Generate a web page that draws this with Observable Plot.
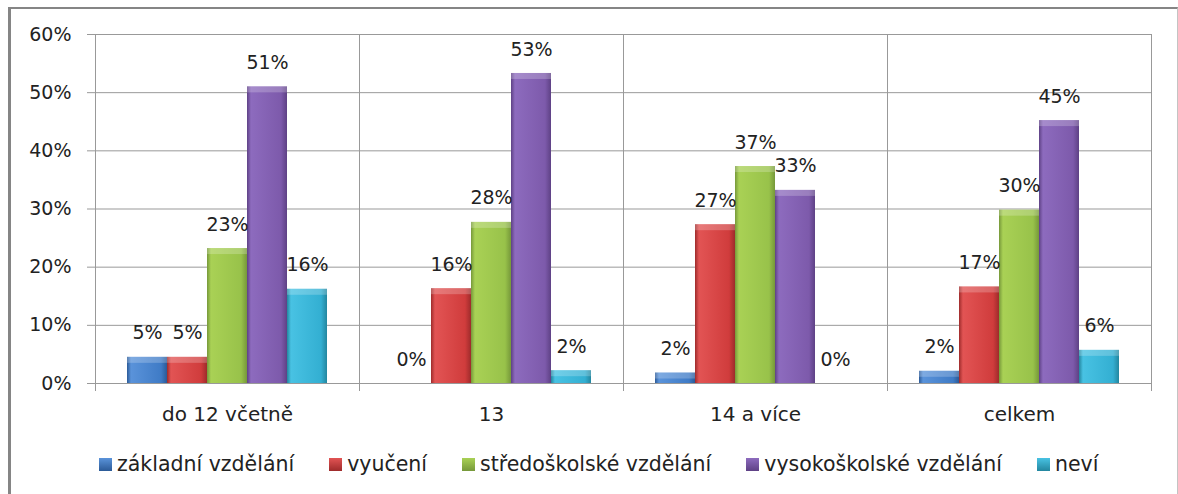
<!DOCTYPE html>
<html><head><meta charset="utf-8">
<script src="https://cdn.jsdelivr.net/npm/d3@7"></script>
<script src="https://cdn.jsdelivr.net/npm/@observablehq/plot@0.6"></script>
<style>
body{margin:0;background:#fff;font-family:"DejaVu Sans",sans-serif;}
#wrap{position:relative;width:1178px;height:494px;overflow:hidden;background:#fff}
#frame{position:absolute;left:8px;top:7px;width:1166px;height:520px;border-left:3px solid #858585;border-top:2px solid #858585;border-right:1px solid #c4c4c4}
#chart{position:absolute;left:0;top:0}
#legend{position:absolute;top:456px;left:99px;display:flex;align-items:center;font-size:20.5px;color:#222;white-space:nowrap}
.item{display:flex;align-items:center;margin-right:35px;line-height:16px}
.sw{width:13px;height:13px;margin-right:5px;box-sizing:border-box}
</style></head><body>
<div id="wrap"><div id="frame"></div><div id="chart"></div><div id="legend"></div></div>
<script>
const categories = ["do 12 včetně", "13", "14 a více", "celkem"];
const series = ["základní vzdělání", "vyučení", "středoškolské vzdělání", "vysokoškolské vzdělání", "neví"];
const zakladni = [4.5, 0, 1.8, 2.1];
const vyuceni = [4.5, 16.3, 27.3, 16.6];
const stredoskolske = [23.2, 27.7, 37.3, 29.8];
const vysokoskolske = [51.0, 53.3, 33.2, 45.2];
const nevi = [16.2, 2.2, 0, 5.7];
const yTicks = [0, 10, 20, 30, 40, 50, 60];

const baseColors = ["#3F7BC6", "#D03C3C", "#98C24A", "#7D5AAB", "#33AFD2"];
const lightColors = ["#5A93DA", "#E25454", "#A9D155", "#8D6BBE", "#48C2E3"];
const darkColors = ["#2B5A97", "#9E2B2B", "#76983A", "#5E4185", "#23869F"];

const values = [zakladni, vyuceni, stredoskolske, vysokoskolske, nevi];
const rows = categories.flatMap((c, i) => series.map((s, j) => ({category: c, series: s, value: values[j][i]})));

const plot = Plot.plot({
  width: 1178, height: 432,
  marginLeft: 94, marginRight: 27, marginTop: 34, marginBottom: 49,
  style: {fontFamily: "DejaVu Sans", fontSize: "19px", color: "#222", background: "transparent", overflow: "visible"},
  fx: {domain: categories, padding: 0, label: null},
  x: {domain: series, paddingInner: 0, paddingOuter: 0.72, axis: null},
  y: {domain: [0, 60], label: null},
  color: {domain: series, range: series.map((s, i) => `url(#grad${i})`)},
  marks: [
    Plot.gridY(yTicks, {stroke: "#999", strokeOpacity: 1}),
    Plot.frame({anchor: "left", stroke: "#999", insetBottom: -7}),
    Plot.frame({anchor: "right", stroke: "#999", insetBottom: -7}),
    Plot.barY(rows, {fx: "category", x: "series", y: "value", fill: "series"}),
    Plot.barY(rows.filter(d => d.value > 0), {fx: "category", x: "series", y1: "value", y2: "value", insetBottom: -6, fill: "white", fillOpacity: 0.22}),
    Plot.text(rows, {fx: "category", x: "series", y: "value", text: d => Math.round(d.value) + "%", dy: -24, fontSize: 19, fill: "#222"}),
    Plot.axisY({ticks: yTicks, tickSize: 8, tickPadding: 16, tickFormat: d => d + "%", stroke: "#999", fill: "#222", fontSize: 19, label: null}),
    Plot.axisFx({anchor: "bottom", tickSize: 0, tickPadding: 23, fontSize: 20, fill: "#222", label: null})
  ]
});

const svg = d3.select(plot);
const defs = svg.insert("defs", ":first-child");
series.forEach((s, i) => {
  const g = defs.append("linearGradient").attr("id", `grad${i}`)
    .attr("x1", 0).attr("x2", 1).attr("y1", 0).attr("y2", 0);
  g.append("stop").attr("offset", "0%").attr("stop-color", darkColors[i]);
  g.append("stop").attr("offset", "10%").attr("stop-color", lightColors[i]);
  g.append("stop").attr("offset", "85%").attr("stop-color", baseColors[i]);
  g.append("stop").attr("offset", "100%").attr("stop-color", darkColors[i]);
});
document.getElementById("chart").appendChild(plot);

const legend = d3.select("#legend");
series.forEach((s, i) => {
  const it = legend.append("div").attr("class", "item");
  it.append("div").attr("class", "sw")
    .style("background", `linear-gradient(to bottom, ${lightColors[i]}, ${darkColors[i]})`);
  it.append("span").text(s);
});
</script>
</body></html>
